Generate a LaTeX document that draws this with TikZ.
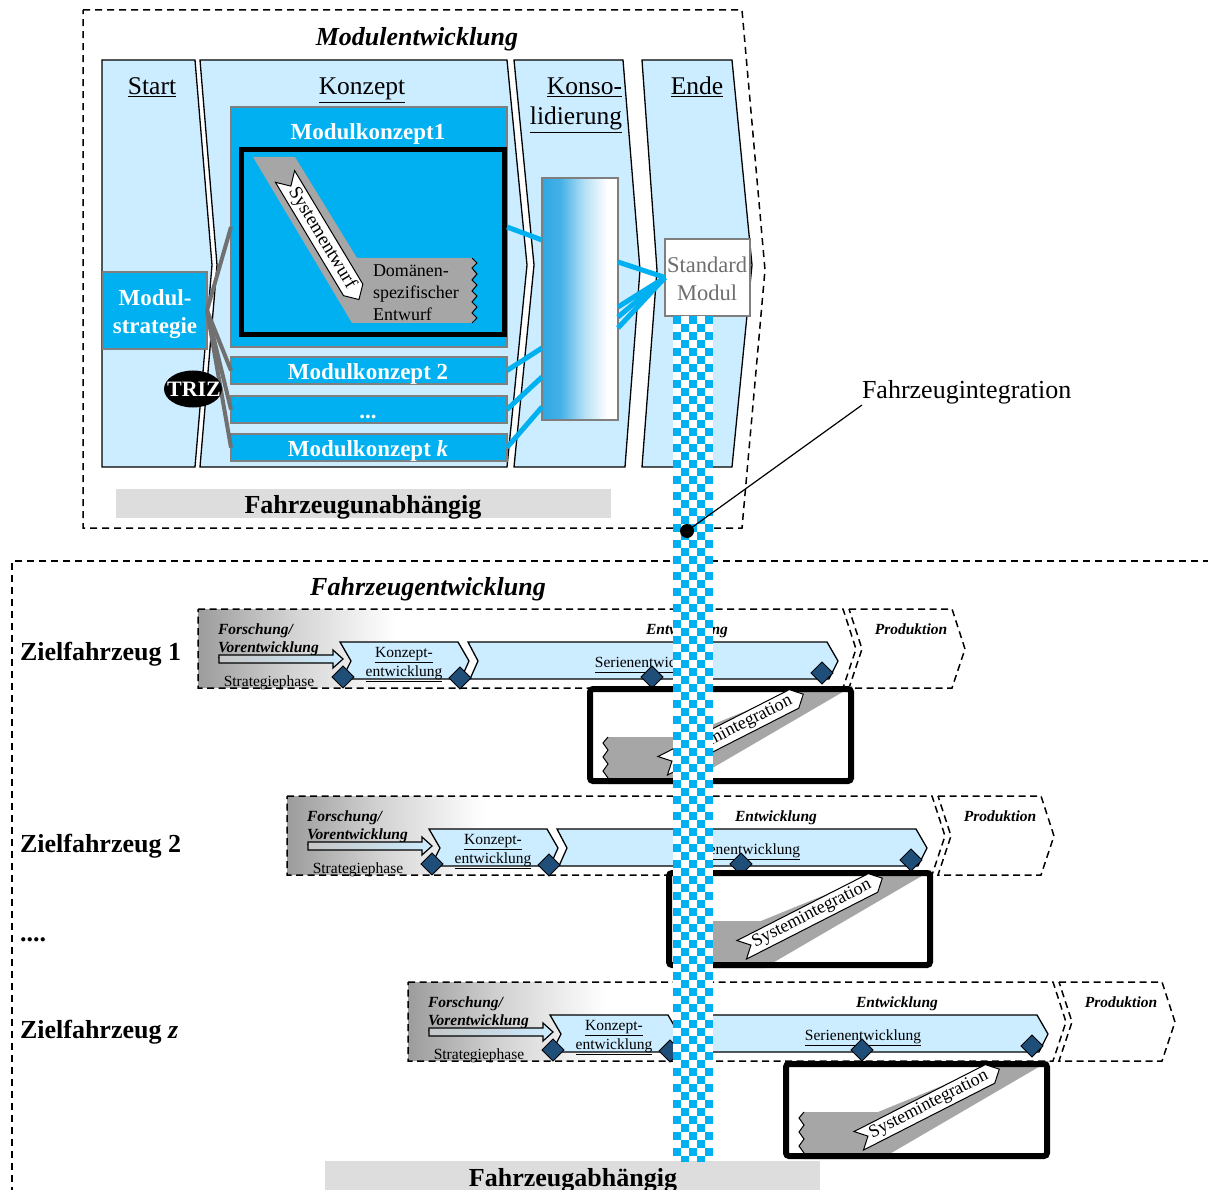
\documentclass[tikz,border=0pt]{standalone}
\usepackage{fontspec}
\setmainfont{Liberation Serif}
\usetikzlibrary{shapes.geometric,shapes.symbols,calc}

\definecolor{lblue}{HTML}{CCECFF}
\definecolor{mblue}{HTML}{00B0F0}
\definecolor{kblue}{HTML}{2FA8E4}
\definecolor{dblue}{HTML}{1F4E79}
\definecolor{bandgray}{HTML}{A6A6A6}
\definecolor{bargray}{HTML}{DDDDDD}
\definecolor{edgegray}{HTML}{7F7F7F}
\definecolor{linegray}{HTML}{707070}
\definecolor{shgray}{HTML}{9C9C9C}
\definecolor{shmid}{HTML}{D2D2D2}
\definecolor{txtgray}{HTML}{6E6E6E}

\newcommand\fsz[2]{\fontsize{#1}{#2}\selectfont}

\pgfdeclarehorizontalshading{konsograd}{100bp}{color(0bp)=(kblue); color(25bp)=(kblue); color(37bp)=(kblue!90!white); color(53bp)=(kblue!35!white); color(68bp)=(white); color(100bp)=(white)}
\pgfdeclarehorizontalshading{phasegrad}{100bp}{color(0bp)=(shgray); color(25bp)=(shgray); color(32bp)=(shmid); color(40bp)=(white); color(100bp)=(white)}

\tikzset{
  column/.style={draw=black, line width=1.3pt, fill=lblue},
  frame/.style={draw=black, line width=1.5pt, dash pattern=on 7pt off 5pt},
  phase/.style={draw=black, line width=1.5pt, dash pattern=on 7pt off 4.5pt},
  mkbox/.style={draw=edgegray, line width=1.5pt, fill=mblue},
  mktext/.style={text=white, font=\fsz{23}{27}\bfseries},
  head/.style={font=\fsz{25.5}{30}},
  feed/.style={draw=linegray, line width=4pt},
  blueline/.style={draw=mblue, line width=5pt},
  milestone/.style={diamond, draw=black, line width=1pt, fill=dblue, minimum width=22pt, minimum height=22pt},
  banner/.style={signal, signal to=east, signal from=west, draw=black, line width=1pt, fill=white, font=\fsz{18}{20}, inner xsep=3pt, inner ysep=2.5pt},
  stage/.style={draw=black, line width=1.3pt, fill=lblue},
  small/.style={font=\fsz{15.5}{18}},
  smallbi/.style={font=\fsz{15.5}{18}\bfseries\itshape},
  big/.style={font=\fsz{26}{31}\bfseries},
}

% one vehicle project: phases, stages and milestones
\newcommand\vehiclerow[3]{%
\begin{scope}[shift={(#1,#2)}]
  \shade[shading=phasegrad] (198,609) -- (843,609) -- (856,649) -- (843,688) -- (198,688) -- cycle;
  \draw[phase] (198,609) -- (843,609) -- (856,649) -- (843,688) -- (198,688) -- cycle;
  \draw[phase] (849,609) -- (952,609) -- (965,649) -- (952,688) -- (849,688) -- (862,649) -- cycle;
  \node[smallbi, anchor=base west] (fo#3) at (218,634) {Forschung/};
  \node[smallbi, anchor=base west] (ve#3) at (218,652) {\underline{Vorentwicklung}};
  \node[smallbi, anchor=base] (en#3) at (687,634) {Entwicklung};
  \node[smallbi, anchor=base] (pr#3) at (911,634) {Produktion};
  \node[small, anchor=base] (st#3) at (269,686) {Strategiephase};
  \draw[line width=1.2pt, left color=gray!45, right color=lblue] (219,655) -- (333,655) -- (333,650) -- (343,659) -- (333,668) -- (333,663) -- (219,663) -- cycle;
  \path[stage] (340,642) -- (458,642) -- (469,661) -- (461,679) -- (342,679) -- (351,661) -- cycle;
  \path[stage] (468,642) -- (827,642) -- (838,661) -- (829,679) -- (470,679) -- (478,661) -- cycle;
  \node[small, anchor=base] (ke1#3) at (404,657) {\underline{Konzept-}};
  \node[small, anchor=base] (ke2#3) at (404,676) {\underline{entwicklung}};
  \node[small, anchor=base] (se#3) at (653,667) {\underline{Serienentwicklung}};
  \node[milestone] (ma#3) at (343,677) {};
  \node[milestone] (mb#3) at (460,678) {};
  \node[milestone] (mc#3) at (652,677) {};
  \node[milestone] (md#3) at (822,673) {};
\end{scope}}

% system integration frame below a vehicle project
\newcommand\sysint[3]{%
\begin{scope}[shift={(#1,#2)}]
  \fill[white] (3,3) rectangle (264,95);
  \fill[bandgray] (21,51) -- (95,51) -- (220,0) -- (266,0) -- (98,98) -- (21,98) -- (21,92)
     -- (16,85) -- (21,78) -- (16,71) -- (21,64) -- (16,57) -- cycle;
  \draw[line width=1pt] (21,92) -- (16,85) -- (21,78) -- (16,71) -- (21,64) -- (16,57) -- (21,51);
  \draw[line width=6pt, rounded corners=3pt] (3,3) rectangle (264,95);
  \node[banner, rotate=27] (si#3) at (146,44) {Systemintegration};
\end{scope}}

\begin{document}
\begin{tikzpicture}[x=1pt, y=-1pt, every node/.style={inner sep=0pt, outer sep=0pt}]
\useasboundingbox (0,0) rectangle (1208,1190);

% ---------------- module development ----------------
\draw[frame] (83,10) -- (742,10) -- (765,270) -- (742,528) -- (83,528) -- cycle;
\node[font=\fsz{26}{31}\bfseries\itshape, anchor=base] (modtitle) at (417,46) {Modulentwicklung};

\path[column] (102,60) -- (195,60) -- (212,265) -- (195,467) -- (102,467) -- cycle;
\path[column] (200,60) -- (507,60) -- (527,265) -- (507,467) -- (200,467) -- (217,265) -- cycle;
\path[column] (514,60) -- (623,60) -- (640,270) -- (625,467) -- (514,467) -- (534,265) -- cycle;
\path[column] (642,60) -- (732,60) -- (752,265) -- (732,467) -- (642,467) -- (657,270) -- cycle;

\node[head, anchor=base] (hstart) at (152,95) {\underline{Start}};
\node[head, anchor=base] (hkonz) at (362,95) {\underline{Konzept}};
\node[head, anchor=base east] (hkons1) at (622,95) {\underline{Konso-}};
\node[head, anchor=base east] (hkons2) at (622,125) {\underline{lidierung}};
\node[head, anchor=base] (hende) at (697,95) {\underline{Ende}};

% module strategy
\node[mkbox, minimum width=104pt, minimum height=77pt, anchor=north west] (ms) at (103,272) {};
\node[font=\fsz{23}{28}\bfseries, text=white, anchor=base] (ms1) at (155,306) {Modul-};
\node[font=\fsz{23}{28}\bfseries, text=white, anchor=base] (ms2) at (155,334) {strategie};

% module concepts
\node[mkbox, minimum width=276pt, minimum height=240pt, anchor=north west] (mk1) at (231,107) {};
\node[mkbox, minimum width=276pt, minimum height=27pt, anchor=north west] (mk2) at (231,357) {};
\node[mkbox, minimum width=276pt, minimum height=27pt, anchor=north west] (mkd) at (231,396) {};
\node[mkbox, minimum width=276pt, minimum height=27pt, anchor=north west] (mkk) at (231,434) {};
\node[mktext, anchor=base] (mk1t) at (368,140) {Modulkonzept1};
\node[mktext, anchor=base] (mk2t) at (368,380) {Modulkonzept 2};
\node[mktext, anchor=base] (mkdt) at (368,418) {...};
\node[mktext, anchor=base] (mkkt) at (368,456) {Modulkonzept \textit{k}};

\draw[line width=5pt, fill=mblue] (241.5,149.5) rectangle (504.5,334.5);
\fill[bandgray] (253,157) -- (295,157) -- (357,258) -- (472,258) -- (477,263) -- (472,268) -- (477,274)
  -- (472,280) -- (477,285) -- (472,291) -- (477,296) -- (472,302) -- (477,307) -- (472,313)
  -- (477,318) -- (472,323) -- (352,323) -- cycle;
\draw[line width=1pt] (472,258) -- (477,263) -- (472,268) -- (477,274) -- (472,280) -- (477,285)
  -- (472,291) -- (477,296) -- (472,302) -- (477,307) -- (472,313) -- (477,318) -- (472,323);
\node[banner, rotate=-59, font=\fsz{19}{21}] (sysent) at (322,238) {Systementwurf};
\node[font=\fsz{18}{22}, anchor=base west] (dom1) at (373,277) {Domänen-};
\node[font=\fsz{18}{22}, anchor=base west] (dom2) at (373,299) {spezifischer};
\node[font=\fsz{18}{22}, anchor=base west] (dom3) at (373,321) {Entwurf};

% strategy feeds the concepts
\draw[feed] (ms.east) -- (mk1.west);
\draw[feed] (ms.east) -- (mk2.west);
\draw[feed] (ms.east) -- (mkd.west);
\draw[feed] (ms.east) -- (mkk.west);
\node[ellipse, fill=black, minimum width=58pt, minimum height=37pt] (triz) at (193,389) {};
\node[text=white, font=\fsz{22}{26}\bfseries] (trizt) at (194,389) {TRIZ};

% consolidation
\node[draw=edgegray, line width=1.5pt, shade, shading=konsograd, minimum width=76pt, minimum height=242pt, anchor=north west] (kb) at (542,178) {};
\node[draw=edgegray, line width=1.5pt, fill=white, minimum width=85pt, minimum height=77pt, anchor=north west] (sm) at (665,239) {};
\node[text=txtgray, font=\fsz{22.5}{27}, anchor=base] (sm1) at (707,273) {Standard};
\node[text=txtgray, font=\fsz{22.5}{27}, anchor=base] (sm2) at (707,301) {Modul};

\draw[blueline] (mk1.east) -- ($(kb.north west)+(0,62)$);
\draw[blueline] (mk2.east) -- ($(kb.north west)+(0,170)$);
\draw[blueline] (mkd.east) -- ($(kb.north west)+(0,199)$);
\draw[blueline] (mkk.east) -- ($(kb.north west)+(0,229)$);
\draw[blueline] ($(kb.north east)+(0,84)$) -- (sm.west);
\draw[blueline] ($(kb.north east)+(0,129)$) -- (sm.west);
\draw[blueline] ($(kb.north east)+(0,139)$) -- (sm.west);
\draw[blueline] ($(kb.north east)+(0,150)$) -- (sm.west);

\node[fill=bargray, minimum width=495pt, minimum height=29pt, anchor=north west] (fubar) at (116,489) {};
\node[big, anchor=base] (fu) at (363,513) {Fahrzeugunabhängig};

% ---------------- vehicle development ----------------
\draw[frame] (1210,561) -- (12,561) -- (12,1192);
\node[font=\fsz{26}{31}\bfseries\itshape, anchor=base] (fetitle) at (428,595) {Fahrzeugentwicklung};

\node[big, anchor=base west] (zf1) at (20,660) {Zielfahrzeug 1};
\node[big, anchor=base west] (zf2) at (20,852) {Zielfahrzeug 2};
\node[big, anchor=base west] (zfd) at (20,941) {....};
\node[big, anchor=base west] (zfz) at (20,1038) {Zielfahrzeug \textit{z}};

\vehiclerow{0}{0}{a}
\vehiclerow{89}{187}{b}
\vehiclerow{210}{373}{c}

\sysint{587}{686}{a}
\sysint{666}{870}{b}
\sysint{783}{1061}{c}

\node[fill=bargray, minimum width=495pt, minimum height=30pt, anchor=north west] (fabar) at (325,1161) {};
\node[big, anchor=base] (fa) at (573,1186) {Fahrzeugabhängig};

% vehicle integration strand of the standard module
\begin{scope}
  \clip (673,316) rectangle (713,1161);
  \fill[white] (673,316) rectangle (713,1161);
  \foreach \r in {0,...,105} {
    \foreach \c in {0,...,4} {
      \pgfmathtruncatemacro\k{\r+\c}
      \ifodd\k\relax\else
        \fill[mblue] ({673+8*\c},{316+8*\r}) rectangle ++(8,8);
      \fi
    }
  }
\end{scope}

\node[font=\fsz{26}{31}, anchor=base west] (fi) at (862,399) {Fahrzeugintegration};
\node[circle, fill=black, minimum size=14pt] (fidot) at (687,531) {};
\draw[line width=1.2pt] (fidot.center) -- ($(fi.base west)+(0,6)$);
\end{tikzpicture}
\end{document}
